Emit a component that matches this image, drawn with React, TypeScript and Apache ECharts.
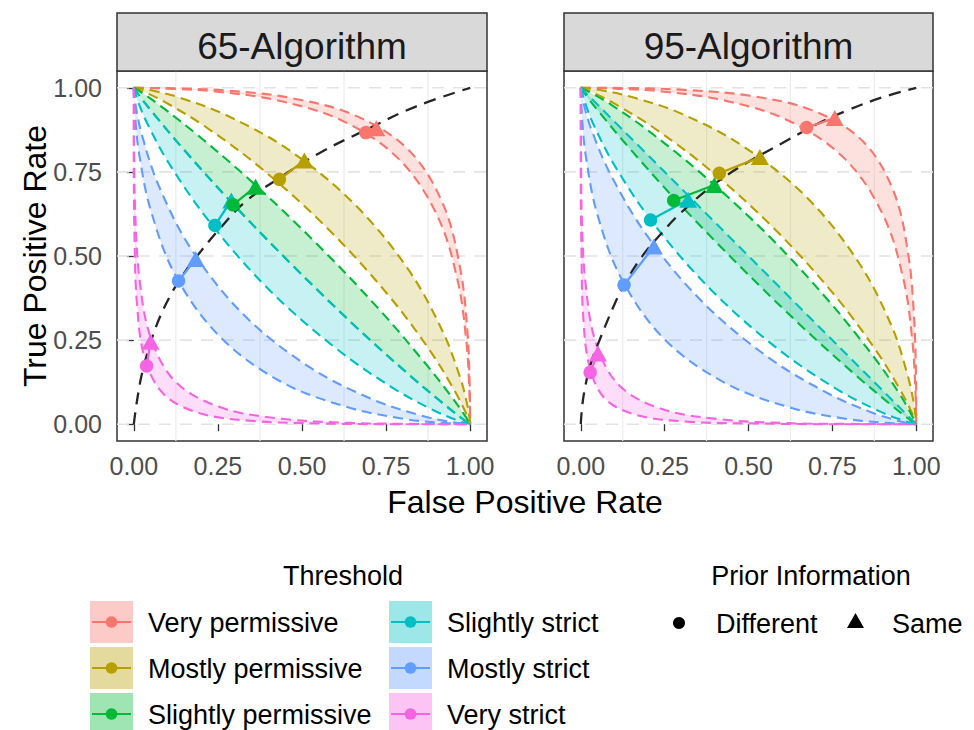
import React, { useEffect, useRef } from "react";
import * as echarts from "echarts";

// ---------------- data ----------------
const panelTitles = ["65-Algorithm", "95-Algorithm"];
const thresholds = [
  "Very permissive",
  "Mostly permissive",
  "Slightly permissive",
  "Slightly strict",
  "Mostly strict",
  "Very strict",
];
const priorLabels = ["Different", "Same"];
const xTickValues = [0, 0.25, 0.5, 0.75, 1];
const yTickValues = [0, 0.25, 0.5, 0.75, 1];
const minorXGrid = [0.125, 0.375, 0.625, 0.875];
const dashedYGrid = [0, 0.25, 0.5, 0.75, 1];

// operating points (False Positive Rate, True Positive Rate), in threshold order
const alg65Different = [[0.690, 0.867], [0.433, 0.728], [0.295, 0.652], [0.241, 0.591], [0.133, 0.426], [0.038, 0.173]];
const alg65Same = [[0.721, 0.880], [0.507, 0.784], [0.362, 0.706], [0.290, 0.665], [0.184, 0.491], [0.050, 0.245]];
const alg95Different = [[0.673, 0.882], [0.413, 0.746], [0.277, 0.665], [0.208, 0.607], [0.129, 0.414], [0.028, 0.154]];
const alg95Same = [[0.757, 0.910], [0.534, 0.794], [0.398, 0.711], [0.320, 0.667], [0.218, 0.528], [0.051, 0.210]];

// black dashed ROC curves
const roc65 = [[0, 0], [0.008, 0.06], [0.022, 0.14], [0.04, 0.21], [0.07, 0.30], [0.11, 0.385], [0.15, 0.45], [0.2, 0.515], [0.25, 0.575], [0.33, 0.66], [0.43, 0.73], [0.55, 0.805], [0.69, 0.875], [0.84, 0.945], [1, 1]];
const roc95 = [[0, 0], [0.005, 0.06], [0.015, 0.12], [0.03, 0.18], [0.05, 0.235], [0.1, 0.355], [0.13, 0.415], [0.18, 0.495], [0.24, 0.567], [0.3, 0.63], [0.4, 0.715], [0.5, 0.78], [0.6, 0.835], [0.7, 0.89], [0.8, 0.935], [0.9, 0.972], [1, 1]];

// iso-threshold boundary curves, 65-Algorithm
const c65VeryPermissiveDiff = [[0, 1], [0.014, 1.0], [0.115, 0.997], [0.242, 0.989], [0.421, 0.964], [0.618, 0.903], [0.788, 0.788], [0.903, 0.618], [0.964, 0.421], [0.989, 0.242], [0.997, 0.115], [1.0, 0.014], [1, 0]];
const c65VeryPermissiveSame = [[0, 1], [0.018, 1.0], [0.136, 0.998], [0.274, 0.992], [0.46, 0.971], [0.655, 0.919], [0.816, 0.816], [0.919, 0.655], [0.971, 0.46], [0.992, 0.274], [0.998, 0.136], [1.0, 0.018], [1, 0]];
const c65MostlyPermissiveDiff = [[0, 1], [0.003, 0.999], [0.036, 0.986], [0.097, 0.955], [0.212, 0.885], [0.382, 0.758], [0.579, 0.579], [0.758, 0.382], [0.885, 0.212], [0.955, 0.097], [0.986, 0.036], [0.999, 0.003], [1, 0]];
const c65MostlyPermissiveSame = [[0, 1], [0.005, 1.0], [0.055, 0.992], [0.136, 0.971], [0.274, 0.919], [0.46, 0.816], [0.655, 0.655], [0.816, 0.46], [0.919, 0.274], [0.971, 0.136], [0.992, 0.055], [1.0, 0.005], [1, 0]];
const c65SlightlyPermissiveDiff = [[0, 1], [0.001, 0.998], [0.019, 0.973], [0.058, 0.924], [0.142, 0.824], [0.284, 0.666], [0.472, 0.472], [0.666, 0.284], [0.824, 0.142], [0.924, 0.058], [0.973, 0.019], [0.998, 0.001], [1, 0]];
const c65SlightlyPermissiveSame = [[0, 1], [0.002, 0.999], [0.029, 0.982], [0.081, 0.945], [0.184, 0.864], [0.345, 0.726], [0.54, 0.54], [0.726, 0.345], [0.864, 0.184], [0.945, 0.081], [0.982, 0.029], [0.999, 0.002], [1, 0]];
const c65SlightlyStrictDiff = [[0, 1], [0.001, 0.997], [0.012, 0.96], [0.04, 0.894], [0.106, 0.773], [0.227, 0.599], [0.401, 0.401], [0.599, 0.227], [0.773, 0.106], [0.894, 0.04], [0.96, 0.012], [0.997, 0.001], [1, 0]];
const c65SlightlyStrictSame = [[0, 1], [0.001, 0.998], [0.019, 0.973], [0.058, 0.924], [0.142, 0.824], [0.284, 0.666], [0.472, 0.472], [0.666, 0.284], [0.824, 0.142], [0.924, 0.058], [0.973, 0.019], [0.998, 0.001], [1, 0]];
const c65MostlyStrictDiff = [[0, 1], [0.0, 0.991], [0.004, 0.912], [0.016, 0.802], [0.05, 0.637], [0.125, 0.44], [0.258, 0.258], [0.44, 0.125], [0.637, 0.05], [0.802, 0.016], [0.912, 0.004], [0.991, 0.0], [1, 0]];
const c65MostlyStrictSame = [[0, 1], [0.0, 0.995], [0.007, 0.939], [0.026, 0.853], [0.074, 0.709], [0.171, 0.52], [0.326, 0.326], [0.52, 0.171], [0.709, 0.074], [0.853, 0.026], [0.939, 0.007], [0.995, 0.0], [1, 0]];
const c65VeryStrictDiff = [[0, 1], [0.0, 0.951], [0.0, 0.742], [0.002, 0.56], [0.009, 0.363], [0.032, 0.198], [0.089, 0.089], [0.198, 0.032], [0.363, 0.009], [0.56, 0.002], [0.742, 0.0], [0.951, 0.0], [1, 0]];
const c65VeryStrictSame = [[0, 1], [0.0, 0.968], [0.001, 0.802], [0.004, 0.637], [0.016, 0.44], [0.05, 0.258], [0.125, 0.125], [0.258, 0.05], [0.44, 0.016], [0.637, 0.004], [0.802, 0.001], [0.968, 0.0], [1, 0]];

// iso-threshold boundary curves, 95-Algorithm
const c95VeryPermissiveDiff = [[0, 1], [0.014, 1.0], [0.115, 0.997], [0.242, 0.989], [0.421, 0.964], [0.618, 0.903], [0.788, 0.788], [0.903, 0.618], [0.964, 0.421], [0.989, 0.242], [0.997, 0.115], [1.0, 0.014], [1, 0]];
const c95VeryPermissiveSame = [[0, 1], [0.023, 1.0], [0.159, 0.999], [0.309, 0.994], [0.5, 0.977], [0.691, 0.933], [0.841, 0.841], [0.933, 0.691], [0.977, 0.5], [0.994, 0.309], [0.999, 0.159], [1.0, 0.023], [1, 0]];
const c95MostlyPermissiveDiff = [[0, 1], [0.003, 0.999], [0.036, 0.986], [0.097, 0.955], [0.212, 0.885], [0.382, 0.758], [0.579, 0.579], [0.758, 0.382], [0.885, 0.212], [0.955, 0.097], [0.986, 0.036], [0.999, 0.003], [1, 0]];
const c95MostlyPermissiveSame = [[0, 1], [0.005, 1.0], [0.061, 0.993], [0.147, 0.974], [0.291, 0.927], [0.48, 0.829], [0.674, 0.674], [0.829, 0.48], [0.927, 0.291], [0.974, 0.147], [0.993, 0.061], [1.0, 0.005], [1, 0]];
const c95SlightlyPermissiveDiff = [[0, 1], [0.001, 0.998], [0.019, 0.973], [0.058, 0.924], [0.142, 0.824], [0.284, 0.666], [0.472, 0.472], [0.666, 0.284], [0.824, 0.142], [0.924, 0.058], [0.973, 0.019], [0.998, 0.001], [1, 0]];
const c95SlightlyPermissiveSame = [[0, 1], [0.002, 0.999], [0.032, 0.984], [0.089, 0.951], [0.198, 0.875], [0.363, 0.742], [0.56, 0.56], [0.742, 0.363], [0.875, 0.198], [0.951, 0.089], [0.984, 0.032], [0.999, 0.002], [1, 0]];
const c95SlightlyStrictDiff = [[0, 1], [0.001, 0.997], [0.012, 0.958], [0.038, 0.891], [0.102, 0.767], [0.221, 0.591], [0.394, 0.394], [0.591, 0.221], [0.767, 0.102], [0.891, 0.038], [0.958, 0.012], [0.997, 0.001], [1, 0]];
const c95SlightlyStrictSame = [[0, 1], [0.159, 0.841], [0.5, 0.5], [0.841, 0.159], [1, 0]];
const c95MostlyStrictDiff = [[0, 1], [0.0, 0.99], [0.004, 0.908], [0.015, 0.797], [0.048, 0.629], [0.121, 0.433], [0.251, 0.251], [0.433, 0.121], [0.629, 0.048], [0.797, 0.015], [0.908, 0.004], [0.99, 0.0], [1, 0]];
const c95MostlyStrictSame = [[0, 1], [0.0, 0.996], [0.009, 0.951], [0.032, 0.875], [0.089, 0.742], [0.198, 0.56], [0.363, 0.363], [0.56, 0.198], [0.742, 0.089], [0.875, 0.032], [0.951, 0.009], [0.996, 0.0], [1, 0]];
const c95VeryStrictDiff = [[0, 1], [0.0, 0.939], [0.0, 0.709], [0.002, 0.52], [0.007, 0.326], [0.026, 0.171], [0.074, 0.074], [0.171, 0.026], [0.326, 0.007], [0.52, 0.002], [0.709, 0.0], [0.939, 0.0], [1, 0]];
const c95VeryStrictSame = [[0, 1], [0.0, 0.964], [0.001, 0.788], [0.003, 0.618], [0.014, 0.421], [0.045, 0.242], [0.115, 0.115], [0.242, 0.045], [0.421, 0.014], [0.618, 0.003], [0.788, 0.001], [0.964, 0.0], [1, 0]];

// ---------------- styling ----------------
const palette = ["#F8766D", "#B79F00", "#00BA38", "#00BFC4", "#619CFF", "#F564E3"];
const FONT = "'Liberation Sans', Arial, sans-serif";

function rgba(hex: string, a: number) {
  const n = parseInt(hex.slice(1), 16);
  return `rgba(${(n >> 16) & 255},${(n >> 8) & 255},${n & 255},${a})`;
}

const panels = [
  {
    diff: [c65VeryPermissiveDiff, c65MostlyPermissiveDiff, c65SlightlyPermissiveDiff, c65SlightlyStrictDiff, c65MostlyStrictDiff, c65VeryStrictDiff],
    same: [c65VeryPermissiveSame, c65MostlyPermissiveSame, c65SlightlyPermissiveSame, c65SlightlyStrictSame, c65MostlyStrictSame, c65VeryStrictSame],
    ptsDiff: alg65Different,
    ptsSame: alg65Same,
    roc: roc65,
  },
  {
    diff: [c95VeryPermissiveDiff, c95MostlyPermissiveDiff, c95SlightlyPermissiveDiff, c95SlightlyStrictDiff, c95MostlyStrictDiff, c95VeryStrictDiff],
    same: [c95VeryPermissiveSame, c95MostlyPermissiveSame, c95SlightlyPermissiveSame, c95SlightlyStrictSame, c95MostlyStrictSame, c95VeryStrictSame],
    ptsDiff: alg95Different,
    ptsSame: alg95Same,
    roc: roc95,
  },
];

const gridRects = [
  { left: 117, top: 71, width: 370, height: 370 },
  { left: 564, top: 71, width: 369, height: 370 },
];

function buildOption() {
  const grid = gridRects.map((r) => ({
    ...r,
    show: true,
    borderColor: "#333333",
    borderWidth: 1.5,
    backgroundColor: "transparent",
    containLabel: false,
  }));

  const xAxis = panels.map((_, p) => ({
    type: "value",
    gridIndex: p,
    min: -0.05,
    max: 1.05,
    axisLine: { show: false },
    splitLine: { show: false },
    axisTick: { show: true, customValues: xTickValues, length: 7, lineStyle: { color: "#333333", width: 1.3 } },
    axisLabel: {
      show: true,
      customValues: xTickValues,
      formatter: (v: number) => v.toFixed(2),
      color: "#4D4D4D",
      fontSize: 25,
      fontFamily: FONT,
      margin: 12,
    },
  }));

  const yAxis = panels.map((_, p) => ({
    type: "value",
    gridIndex: p,
    min: -0.05,
    max: 1.05,
    axisLine: { show: false },
    splitLine: { show: false },
    axisTick: { show: p === 0, customValues: yTickValues, length: 7, lineStyle: { color: "#333333", width: 1.3 } },
    axisLabel: {
      show: p === 0,
      customValues: yTickValues,
      formatter: (v: number) => v.toFixed(2),
      color: "#4D4D4D",
      fontSize: 25,
      fontFamily: FONT,
      margin: 15,
    },
  }));

  const series: any[] = [];
  panels.forEach((pd, p) => {
    const axes = { xAxisIndex: p, yAxisIndex: p };
    // minor vertical grid lines
    series.push({
      type: "custom",
      ...axes,
      z: 1,
      silent: true,
      data: minorXGrid.map((v) => [v, 0]),
      renderItem: (params: any, api: any) => {
        const v = api.value(0);
        const a = api.coord([v, -0.05]);
        const b = api.coord([v, 1.05]);
        return { type: "line", shape: { x1: a[0], y1: a[1], x2: b[0], y2: b[1] }, style: { stroke: "#EBEBEB", lineWidth: 1.2 } };
      },
    });
    // dashed horizontal reference lines
    series.push({
      type: "custom",
      ...axes,
      z: 1,
      silent: true,
      data: dashedYGrid.map((v) => [0, v]),
      renderItem: (params: any, api: any) => {
        const v = api.value(1);
        const a = api.coord([-0.05, v]);
        const b = api.coord([1.05, v]);
        return {
          type: "line",
          shape: { x1: a[0], y1: a[1], x2: b[0], y2: b[1] },
          style: { stroke: "#E3E3E3", lineWidth: 1.6, lineDash: [12, 9] },
        };
      },
    });
    // shaded bands between the two curves of each threshold
    series.push({
      type: "custom",
      ...axes,
      z: 2,
      silent: true,
      data: thresholds.map(() => [0.5, 0.5]),
      renderItem: (params: any, api: any) => {
        const i = params.dataIndex;
        const a = pd.diff[i];
        const b = pd.same[i];
        const pts = [...a, ...b.slice(1, -1).reverse()].map((q) => api.coord(q));
        return {
          type: "polygon",
          shape: { points: pts, smooth: 0.35 },
          style: { fill: rgba(palette[i], 0.22), stroke: "none" },
        };
      },
    });
    // dashed boundary curves
    const allCurves = [...pd.diff.map((c, i) => ({ c, i })), ...pd.same.map((c, i) => ({ c, i }))];
    series.push({
      type: "custom",
      ...axes,
      z: 3,
      silent: true,
      data: allCurves.map(() => [0.5, 0.5]),
      renderItem: (params: any, api: any) => {
        const item = allCurves[params.dataIndex];
        const pts = item.c.map((q) => api.coord(q));
        return {
          type: "polyline",
          shape: { points: pts, smooth: 0.35 },
          style: { stroke: palette[item.i], lineWidth: 2.1, lineDash: [10, 6], fill: "none" },
        };
      },
    });
    // black ROC curve
    series.push({
      type: "line",
      ...axes,
      z: 4,
      silent: true,
      data: pd.roc,
      smooth: 0.4,
      showSymbol: false,
      lineStyle: { color: "#262626", width: 2.3, type: [12, 8] },
    });
    // connectors between Different and Same
    thresholds.forEach((t, i) => {
      series.push({
        type: "line",
        name: t,
        ...axes,
        z: 5,
        silent: true,
        data: [pd.ptsDiff[i], pd.ptsSame[i]],
        showSymbol: false,
        lineStyle: { color: palette[i], width: 2.3, type: "solid" },
      });
    });
    // Same (triangles)
    series.push({
      type: "scatter",
      name: priorLabels[1],
      ...axes,
      z: 6,
      silent: true,
      symbol: "triangle",
      symbolSize: [18, 16],
      data: pd.ptsSame.map((q, i) => ({ value: q, itemStyle: { color: palette[i], opacity: 1 } })),
    });
    // Different (circles)
    series.push({
      type: "scatter",
      name: priorLabels[0],
      ...axes,
      z: 7,
      silent: true,
      symbol: "circle",
      symbolSize: 13.5,
      data: pd.ptsDiff.map((q, i) => ({ value: q, itemStyle: { color: palette[i], opacity: 1 } })),
    });
  });

  // graphic: strips, axis titles, legend
  const elements: any[] = [];
  gridRects.forEach((r, p) => {
    elements.push({
      type: "rect",
      shape: { x: r.left, y: 13, width: r.width, height: 71 - 13 },
      style: { fill: "#D9D9D9", stroke: "#333333", lineWidth: 1.5 },
      z: 10,
    });
    elements.push({
      type: "text",
      x: r.left + r.width / 2,
      y: 46,
      style: { text: panelTitles[p], fontSize: 37, fontFamily: FONT, fill: "#1A1A1A", align: "center", verticalAlign: "middle" },
      z: 11,
    });
  });
  elements.push({
    type: "text",
    x: 525,
    y: 502,
    style: { text: "False Positive Rate", fontSize: 32, fontFamily: FONT, fill: "#000", align: "center", verticalAlign: "middle" },
  });
  elements.push({
    type: "text",
    x: 35,
    y: 256,
    rotation: Math.PI / 2,
    style: { text: "True Positive Rate", fontSize: 32, fontFamily: FONT, fill: "#000", align: "center", verticalAlign: "middle" },
  });

  // Threshold legend
  elements.push({
    type: "text",
    x: 343,
    y: 576,
    style: { text: "Threshold", fontSize: 27, fontFamily: FONT, fill: "#000", align: "center", verticalAlign: "middle" },
  });
  thresholds.forEach((t, i) => {
    const col = Math.floor(i / 3);
    const row = i % 3;
    const bx = col === 0 ? 90 : 389;
    const by = 601 + row * 46;
    const cy = by + 21;
    elements.push({ type: "rect", shape: { x: bx, y: by, width: 43, height: 42 }, style: { fill: rgba(palette[i], 0.38) } });
    elements.push({ type: "line", shape: { x1: bx + 2, y1: cy, x2: bx + 41, y2: cy }, style: { stroke: palette[i], lineWidth: 2.2 } });
    elements.push({ type: "circle", shape: { cx: bx + 21.5, cy, r: 5.8 }, style: { fill: palette[i] } });
    elements.push({
      type: "text",
      x: col === 0 ? 148 : 447,
      y: cy + 1,
      style: { text: t, fontSize: 27, fontFamily: FONT, fill: "#000", align: "left", verticalAlign: "middle" },
    });
  });

  // Prior Information legend
  elements.push({
    type: "text",
    x: 811,
    y: 576,
    style: { text: "Prior Information", fontSize: 27, fontFamily: FONT, fill: "#000", align: "center", verticalAlign: "middle" },
  });
  elements.push({ type: "circle", shape: { cx: 679, cy: 623, r: 6 }, style: { fill: "#000" } });
  elements.push({
    type: "text",
    x: 716,
    y: 624,
    style: { text: priorLabels[0], fontSize: 27, fontFamily: FONT, fill: "#000", align: "left", verticalAlign: "middle" },
  });
  elements.push({
    type: "polygon",
    shape: { points: [[847, 628], [864, 628], [855.5, 613]] },
    style: { fill: "#000" },
  });
  elements.push({
    type: "text",
    x: 892,
    y: 624,
    style: { text: priorLabels[1], fontSize: 27, fontFamily: FONT, fill: "#000", align: "left", verticalAlign: "middle" },
  });

  return {
    animation: false,
    backgroundColor: "#FFFFFF",
    textStyle: { fontFamily: FONT },
    grid,
    xAxis,
    yAxis,
    series,
    graphic: { elements },
  };
}

export default function App() {
  const ref = useRef<HTMLDivElement>(null);
  useEffect(() => {
    if (!ref.current) return;
    const chart = echarts.init(ref.current, null, { renderer: "svg" });
    chart.setOption(buildOption() as any);
    return () => chart.dispose();
  }, []);
  return (
    <div
      ref={ref}
      style={{ position: "fixed", left: 0, top: 0, width: 974, height: 730, background: "#fff" }}
    />
  );
}
